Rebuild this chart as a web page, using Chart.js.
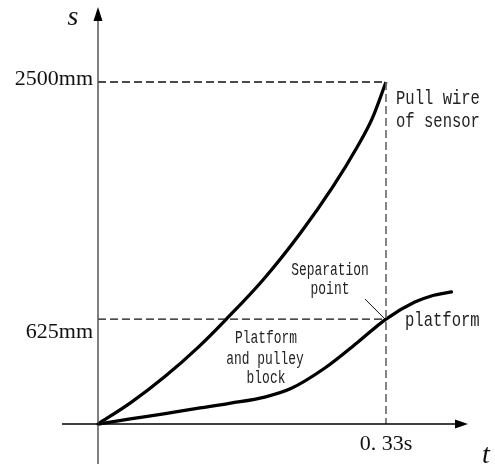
<!DOCTYPE html>
<html>
<head>
<meta charset="utf-8">
<script src="https://cdn.jsdelivr.net/npm/chart.js@4/dist/chart.umd.min.js"></script>
<style>
  html, body { margin: 0; padding: 0; background: #fff; }
  #wrap { width: 495px; height: 469px; }
</style>
</head>
<body>
<div id="wrap"><canvas id="c" width="495" height="469"></canvas></div>
<script>
// Displacement s (mm) against time t (s)
const sensorT   = [0, 0.038, 0.077, 0.115, 0.146, 0.189, 0.232, 0.269, 0.297, 0.314, 0.33];
const sensorS   = [0, 98, 248, 434, 618, 906, 1262, 1626, 1952, 2186, 2500];
const platformT = [0, 0.037, 0.077, 0.117, 0.152, 0.191, 0.221, 0.260, 0.298, 0.33, 0.363, 0.382, 0.405];
const platformS = [0, 18, 42, 69, 94, 127, 175, 299, 468, 625, 745, 789, 818];

// Separation instant and the two marked displacements
const sepTime = 0.33;
const wireEndS = 2500;
const sepS = 625;

// Axis tick labels
const yTickValues = [2500, 625];
const yTickLabels = ['2500mm', '625mm'];
const xTickValues = [0.33];
const xTickLabels = ['0. 33s'];

// Vertical scale compressed by a power law so small displacements stay readable
const POW = 0.852;
const tr = v => Math.sign(v) * Math.pow(Math.abs(v), POW);
const inv = f => Math.sign(f) * Math.pow(Math.abs(f), 1 / POW);

class PowerScale extends Chart.LinearScale {
  getPixelForValue(value) {
    if (value === null || value === undefined || isNaN(value)) return NaN;
    const a = tr(this.min), b = tr(this.max);
    return this.getPixelForDecimal((tr(value) - a) / (b - a));
  }
  getValueForPixel(pixel) {
    const a = tr(this.min), b = tr(this.max);
    return inv(a + this.getDecimalForPixel(pixel) * (b - a));
  }
}
PowerScale.id = 'power';
PowerScale.defaults = Chart.LinearScale.defaults;
Chart.register(PowerScale);

const toPts = (xs, ys) => xs.map((x, i) => ({ x, y: ys[i] }));

const annotate = {
  id: 'annotate',
  afterDatasetsDraw(chart) {
    const ctx = chart.ctx;
    const X = chart.scales.x, Y = chart.scales.y;
    const x0 = X.getPixelForValue(0), y0 = Y.getPixelForValue(0);
    const xs = X.getPixelForValue(sepTime);
    const yTop = Y.getPixelForValue(wireEndS);
    const ySep = Y.getPixelForValue(sepS);
    ctx.save();

    // vertical axis with arrow
    ctx.strokeStyle = '#555';
    ctx.lineWidth = 1.5;
    ctx.beginPath();
    ctx.moveTo(x0, y0 + 40);
    ctx.lineTo(x0, 18);
    ctx.stroke();
    ctx.fillStyle = '#000';
    ctx.beginPath();
    ctx.moveTo(x0, 7);
    ctx.lineTo(x0 - 4.5, 21);
    ctx.lineTo(x0 + 4.5, 21);
    ctx.closePath();
    ctx.fill();

    // horizontal axis with arrow
    ctx.strokeStyle = '#000';
    ctx.lineWidth = 1.5;
    ctx.beginPath();
    ctx.moveTo(x0 - 36, y0);
    ctx.lineTo(x0 + 360, y0);
    ctx.stroke();
    ctx.beginPath();
    ctx.moveTo(x0 + 370, y0);
    ctx.lineTo(x0 + 357, y0 - 4.5);
    ctx.lineTo(x0 + 357, y0 + 4.5);
    ctx.closePath();
    ctx.fill();

    // axis names
    ctx.fillStyle = '#111';
    ctx.font = 'italic 28px "Liberation Serif"';
    ctx.textAlign = 'center';
    ctx.textBaseline = 'alphabetic';
    ctx.fillText('s', x0 - 25, 25);
    ctx.fillText('t', x0 + 388, y0 + 39);

    // tick labels
    ctx.font = '22px "Liberation Serif"';
    ctx.textAlign = 'right';
    const yOff = [3, 19];
    yTickValues.forEach((v, i) => {
      ctx.fillText(yTickLabels[i], x0 - 5, Y.getPixelForValue(v) + yOff[i]);
    });
    ctx.textAlign = 'center';
    xTickValues.forEach((v, i) => {
      ctx.fillText(xTickLabels[i], X.getPixelForValue(v), y0 + 26);
    });

    // leader to the separation point
    ctx.strokeStyle = '#111';
    ctx.lineWidth = 1;
    ctx.beginPath();
    ctx.moveTo(xs - 21, ySep - 20);
    ctx.lineTo(xs - 1, ySep);
    ctx.stroke();

    // curve notes in a narrow monospaced face
    const note = (txt, x, y, align, sx) => {
      ctx.save();
      ctx.translate(x, y);
      ctx.scale(sx, 1);
      ctx.textAlign = align;
      ctx.fillText(txt, 0, 0);
      ctx.restore();
    };
    ctx.fillStyle = '#222';
    ctx.font = '21px "Liberation Mono"';
    note('Pull wire', xs + 10, yTop + 22, 'left', 0.74);
    note('of sensor', xs + 10, yTop + 45, 'left', 0.74);
    note('platform', xs + 19, ySep + 7, 'left', 0.74);
    ctx.font = '19px "Liberation Mono"';
    note('Separation', xs - 56, ySep - 44, 'center', 0.68);
    note('point', xs - 56, ySep - 25, 'center', 0.68);
    note('Platform', xs - 120, ySep + 24, 'center', 0.68);
    note('and pulley', xs - 121, ySep + 45, 'center', 0.68);
    note('block', xs - 120, ySep + 64, 'center', 0.68);

    ctx.restore();
  }
};

new Chart(document.getElementById('c'), {
  type: 'line',
  data: {
    datasets: [
      {
        label: 'wire guide',
        data: [{ x: 0, y: wireEndS }, { x: sepTime, y: wireEndS }],
        borderColor: '#111', borderWidth: 1.3, borderDash: [8, 4],
        pointRadius: 0, tension: 0
      },
      {
        label: 'separation guide',
        data: [{ x: sepTime, y: wireEndS }, { x: sepTime, y: 0 }],
        borderColor: '#666', borderWidth: 1.6, borderDash: [8, 4],
        pointRadius: 0, tension: 0
      },
      {
        label: 'platform guide',
        data: [{ x: 0, y: sepS }, { x: sepTime, y: sepS }],
        borderColor: '#111', borderWidth: 1.3, borderDash: [8, 4],
        pointRadius: 0, tension: 0
      },
      {
        label: 'Pull wire of sensor',
        data: toPts(sensorT, sensorS),
        borderColor: '#000', borderWidth: 3.3,
        pointRadius: 0, cubicInterpolationMode: 'monotone'
      },
      {
        label: 'Platform and pulley block',
        data: toPts(platformT, platformS),
        borderColor: '#000', borderWidth: 3.3,
        pointRadius: 0, cubicInterpolationMode: 'monotone', borderCapStyle: 'round'
      }
    ]
  },
  options: {
    responsive: false,
    animation: false,
    layout: { padding: 0 },
    plugins: { legend: { display: false }, tooltip: { enabled: false } },
    scales: {
      x: { type: 'linear', min: -0.1123, max: 0.4549, display: false },
      y: { type: 'power', min: -231, max: 3217, display: false }
    }
  },
  plugins: [annotate]
});
</script>
</body>
</html>
